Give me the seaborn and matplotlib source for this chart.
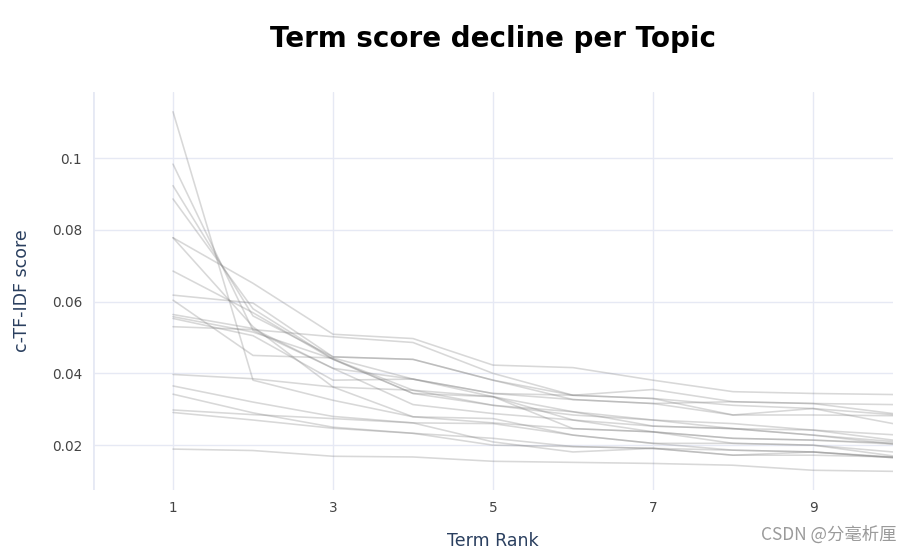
import matplotlib
matplotlib.use("Agg")
import matplotlib.pyplot as plt
import seaborn as sns
import pandas as pd

# ---- data ----
term_ranks = [1, 2, 3, 4, 5, 6, 7, 8, 9, 10]
topic_scores = {
    0:  [0.1129, 0.0381, 0.0325, 0.0279, 0.0262, 0.0246, 0.0237, 0.0219, 0.0214, 0.0206],
    1:  [0.0983, 0.0520, 0.0414, 0.0384, 0.0344, 0.0327, 0.0316, 0.0284, 0.0284, 0.0282],
    2:  [0.0923, 0.0560, 0.0446, 0.0439, 0.0381, 0.0339, 0.0330, 0.0311, 0.0302, 0.0285],
    3:  [0.0886, 0.0580, 0.0440, 0.0353, 0.0311, 0.0293, 0.0270, 0.0260, 0.0242, 0.0229],
    4:  [0.0778, 0.0651, 0.0509, 0.0497, 0.0423, 0.0416, 0.0381, 0.0349, 0.0344, 0.0341],
    5:  [0.0778, 0.0530, 0.0362, 0.0353, 0.0335, 0.0293, 0.0253, 0.0246, 0.0228, 0.0210],
    6:  [0.0685, 0.0569, 0.0439, 0.0344, 0.0311, 0.0284, 0.0270, 0.0246, 0.0242, 0.0214],
    7:  [0.0618, 0.0596, 0.0446, 0.0439, 0.0381, 0.0327, 0.0316, 0.0321, 0.0316, 0.0288],
    8:  [0.0604, 0.0450, 0.0443, 0.0384, 0.0344, 0.0339, 0.0330, 0.0284, 0.0302, 0.0260],
    9:  [0.0564, 0.0525, 0.0414, 0.0313, 0.0288, 0.0270, 0.0253, 0.0246, 0.0228, 0.0203],
    10: [0.0558, 0.0515, 0.0440, 0.0344, 0.0335, 0.0270, 0.0237, 0.0219, 0.0214, 0.0203],
    11: [0.0553, 0.0505, 0.0381, 0.0384, 0.0335, 0.0246, 0.0237, 0.0205, 0.0200, 0.0181],
    12: [0.0530, 0.0522, 0.0502, 0.0486, 0.0400, 0.0339, 0.0355, 0.0321, 0.0316, 0.0313],
    13: [0.0397, 0.0385, 0.0362, 0.0279, 0.0274, 0.0228, 0.0205, 0.0205, 0.0200, 0.0170],
    14: [0.0365, 0.0320, 0.0280, 0.0262, 0.0260, 0.0228, 0.0205, 0.0186, 0.0181, 0.0167],
    15: [0.0342, 0.0290, 0.0250, 0.0233, 0.0219, 0.0196, 0.0191, 0.0186, 0.0181, 0.0165],
    16: [0.0298, 0.0285, 0.0274, 0.0262, 0.0209, 0.0181, 0.0191, 0.0172, 0.0181, 0.0165],
    17: [0.0291, 0.0270, 0.0247, 0.0233, 0.0200, 0.0196, 0.0191, 0.0172, 0.0172, 0.0167],
    18: [0.0189, 0.0185, 0.0169, 0.0167, 0.0155, 0.0152, 0.0149, 0.0144, 0.0130, 0.0127],
}
x_ticks = [1, 3, 5, 7, 9]
y_ticks = [0.02, 0.04, 0.06, 0.08, 0.1]
y_tick_labels = ["0.02", "0.04", "0.06", "0.08", "0.1"]
title = "Term score decline per Topic"
x_label = "Term Rank"
y_label = "c-TF-IDF score"
watermark = "CSDN @分毫析厘"

rows = []
for topic, vals in topic_scores.items():
    for r, v in zip(term_ranks, vals):
        rows.append({"topic": topic, "rank": r, "score": v})
df = pd.DataFrame(rows)

sns.set_theme(style="white")
plt.rcParams["font.family"] = ["DejaVu Sans"]

W, H = 912, 553
fig = plt.figure(figsize=(W / 100, H / 100), dpi=100)
ax = fig.add_axes([93 / W, 1 - 490 / H, 800 / W, 398 / H])

grid_c = "#E6E9F4"
text_c = "#2a3f5f"

sns.lineplot(data=df, x="rank", y="score", units="topic", estimator=None,
             color="#7f7f7f", alpha=0.3, lw=1.15, ax=ax, legend=False)

ax.set_xlim(0, 10)
ax.set_ylim(0.0075, 0.1184)
ax.set_xticks(x_ticks)
ax.set_xticklabels([str(t) for t in x_ticks])
ax.set_yticks(y_ticks)
ax.set_yticklabels(y_tick_labels)
ax.grid(True, color=grid_c, lw=1.0)
ax.set_axisbelow(True)
ax.axvline(0, color=grid_c, lw=2.0, zorder=0)
for s in ax.spines.values():
    s.set_visible(False)
ax.tick_params(length=0, labelsize=9.8, colors="#444444", pad=8)
for lbl in ax.get_xticklabels() + ax.get_yticklabels():
    lbl.set_color("#444444")

ax.set_xlabel(x_label, fontsize=12.5, color=text_c, labelpad=12)
ax.set_ylabel(y_label, fontsize=12.5, color=text_c, labelpad=15)

fig.text(493 / W, 1 - 39 / H, title, ha="center", va="center",
         fontsize=20, fontweight="bold", color="black")

fig.text(897 / W, 1 - 535 / H, watermark, ha="right", va="center",
         fontsize=12.5, color="#9a9a9a",
         family=["Noto Sans CJK SC", "DejaVu Sans"])

fig.savefig("out.png", dpi=100)
